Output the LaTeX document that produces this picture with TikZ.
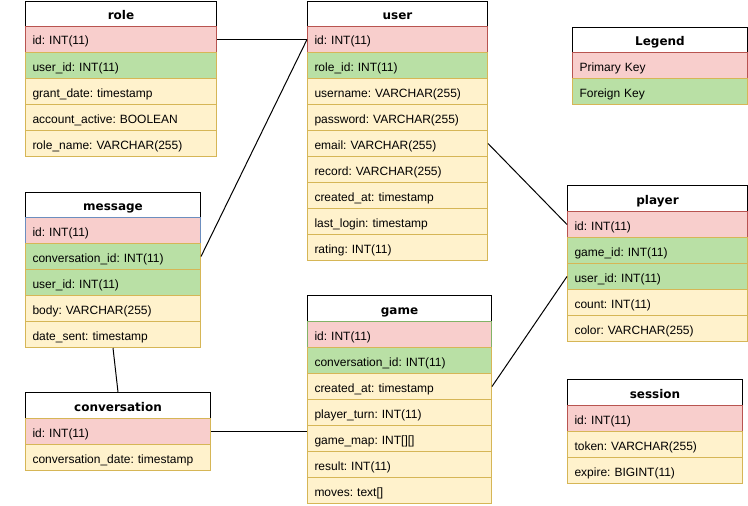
\documentclass[tikz,border=0pt]{standalone}
\usepackage{fontspec}
\setmainfont{Liberation Sans}
\newfontfamily\headfont{DejaVu Sans}

\definecolor{pkfill}{HTML}{F8CECC}
\definecolor{pkline}{HTML}{B85450}
\definecolor{fkfill}{HTML}{B9E0A5}
\definecolor{fldfill}{HTML}{FFF2CC}
\definecolor{fldline}{HTML}{D6B656}
\definecolor{blueline}{HTML}{6C8EBF}
\definecolor{greenline}{HTML}{82B366}

\tikzset{
  cell/.style={rectangle, line width=1pt, inner xsep=7pt, inner ysep=0pt,
    minimum height=26pt, text height=13.5pt, text depth=2.5pt, align=left,
    font=\frenchspacing\fontsize{12}{14}\selectfont},
  pk/.style={cell, draw=pkline, fill=pkfill},
  fk/.style={cell, draw=fldline, fill=fkfill},
  fld/.style={cell, draw=fldline, fill=fldfill},
  hdr/.style={rectangle, draw=black, fill=white, line width=1pt, inner sep=0pt,
    text height=13.5pt, text depth=2.5pt,
    font=\headfont\bfseries\fontsize{12}{14}\selectfont},
  link/.style={draw=black, line width=1pt}
}

% table title: name, x, top, width, height, text
\newcommand\ehead[6]{%
  \node[hdr, anchor=north west, minimum width=#4pt, minimum height=#5pt] (#1) at (#2,#3) {#6};}
% table row: name, style, x, top, width, text
\newcommand\erow[6]{%
  \pgfmathsetmacro\rowtw{#5-14}%
  \node[#2, anchor=north west, minimum width=#5pt, text width=\rowtw pt] (#1) at (#3,#4) {#6};}

\begin{document}
\begin{tikzpicture}[x=1pt,y=-1pt]
\useasboundingbox[fill=white] (0,0) rectangle (748,506);

% role
\ehead{role}{25}{1}{191}{25}{role}
\erow{role-id}{pk}{25}{26}{191}{id: INT(11)}
\erow{role-user}{fk}{25}{52}{191}{user\_id: INT(11)}
\erow{role-grant}{fld}{25}{78}{191}{grant\_date: timestamp}
\erow{role-active}{fld}{25}{104}{191}{account\_active: BOOLEAN}
\erow{role-name}{fld}{25}{130}{191}{role\_name: VARCHAR(255)}

% user
\ehead{user}{307}{1}{180}{25}{user}
\erow{user-id}{pk}{307}{26}{180}{id: INT(11)}
\erow{user-role}{fk}{307}{52}{180}{role\_id: INT(11)}
\erow{user-name}{fld}{307}{78}{180}{username: VARCHAR(255)}
\erow{user-pass}{fld}{307}{104}{180}{password: VARCHAR(255)}
\erow{user-email}{fld}{307}{130}{180}{email: VARCHAR(255)}
\erow{user-record}{fld}{307}{156}{180}{record: VARCHAR(255)}
\erow{user-created}{fld}{307}{182}{180}{created\_at: timestamp}
\erow{user-login}{fld}{307}{208}{180}{last\_login: timestamp}
\erow{user-rating}{fld}{307}{234}{180}{rating: INT(11)}

% legend
\ehead{legend}{572}{27}{175}{25}{Legend}
\erow{legend-pk}{pk}{572}{52}{175}{Primary Key}
\erow{legend-fk}{fk}{572}{78}{175}{Foreign Key}

% message
\ehead{message}{25}{192}{175}{25}{message}
\erow{msg-id}{pk, draw=blueline}{25}{217}{175}{id: INT(11)}
\erow{msg-conv}{fk}{25}{243}{175}{conversation\_id: INT(11)}
\erow{msg-user}{fk}{25}{269}{175}{user\_id: INT(11)}
\erow{msg-body}{fld}{25}{295}{175}{body: VARCHAR(255)}
\erow{msg-date}{fld}{25}{321}{175}{date\_sent: timestamp}

% conversation
\ehead{conv}{25}{392}{185}{26}{conversation}
\erow{conv-id}{pk, draw=fldline}{25}{418}{185}{id: INT(11)}
\erow{conv-date}{fld}{25}{444}{185}{conversation\_date: timestamp}

% game
\ehead{game}{307}{295}{184}{26}{game}
\erow{game-id}{pk, draw=greenline}{307}{321}{184}{id: INT(11)}
\erow{game-conv}{fk}{307}{347}{184}{conversation\_id: INT(11)}
\erow{game-created}{fld}{307}{373}{184}{created\_at: timestamp}
\erow{game-turn}{fld}{307}{399}{184}{player\_turn: INT(11)}
\erow{game-map}{fld}{307}{425}{184}{game\_map: INT[][]}
\erow{game-result}{fld}{307}{451}{184}{result: INT(11)}
\erow{game-moves}{fld}{307}{477}{184}{moves: text[]}

% player
\ehead{player}{567}{185}{180}{26}{player}
\erow{player-id}{pk}{567}{211}{180}{id: INT(11)}
\erow{player-game}{fk}{567}{237}{180}{game\_id: INT(11)}
\erow{player-user}{fk}{567}{263}{180}{user\_id: INT(11)}
\erow{player-count}{fld}{567}{289}{180}{count: INT(11)}
\erow{player-color}{fld}{567}{315}{180}{color: VARCHAR(255)}

% session
\ehead{session}{567}{379}{175}{26}{session}
\erow{session-id}{pk}{567}{405}{175}{id: INT(11)}
\erow{session-token}{fld}{567}{431}{175}{token: VARCHAR(255)}
\erow{session-expire}{fld}{567}{457}{175}{expire: BIGINT(11)}

% relations
\draw[link] (role-id.east) -- (user-id.west);
\draw[link] (user-id.west) -- (msg-conv.east);
\draw[link] (user-email.east) -- (player-id.west);
\draw[link] (game-created.east) -- (player-user.west);
\draw[link] (msg-date.south) -- (conv.north);
\draw[link] (conv-id.east) -- (conv-id.east -| game.west);
\end{tikzpicture}
\end{document}
